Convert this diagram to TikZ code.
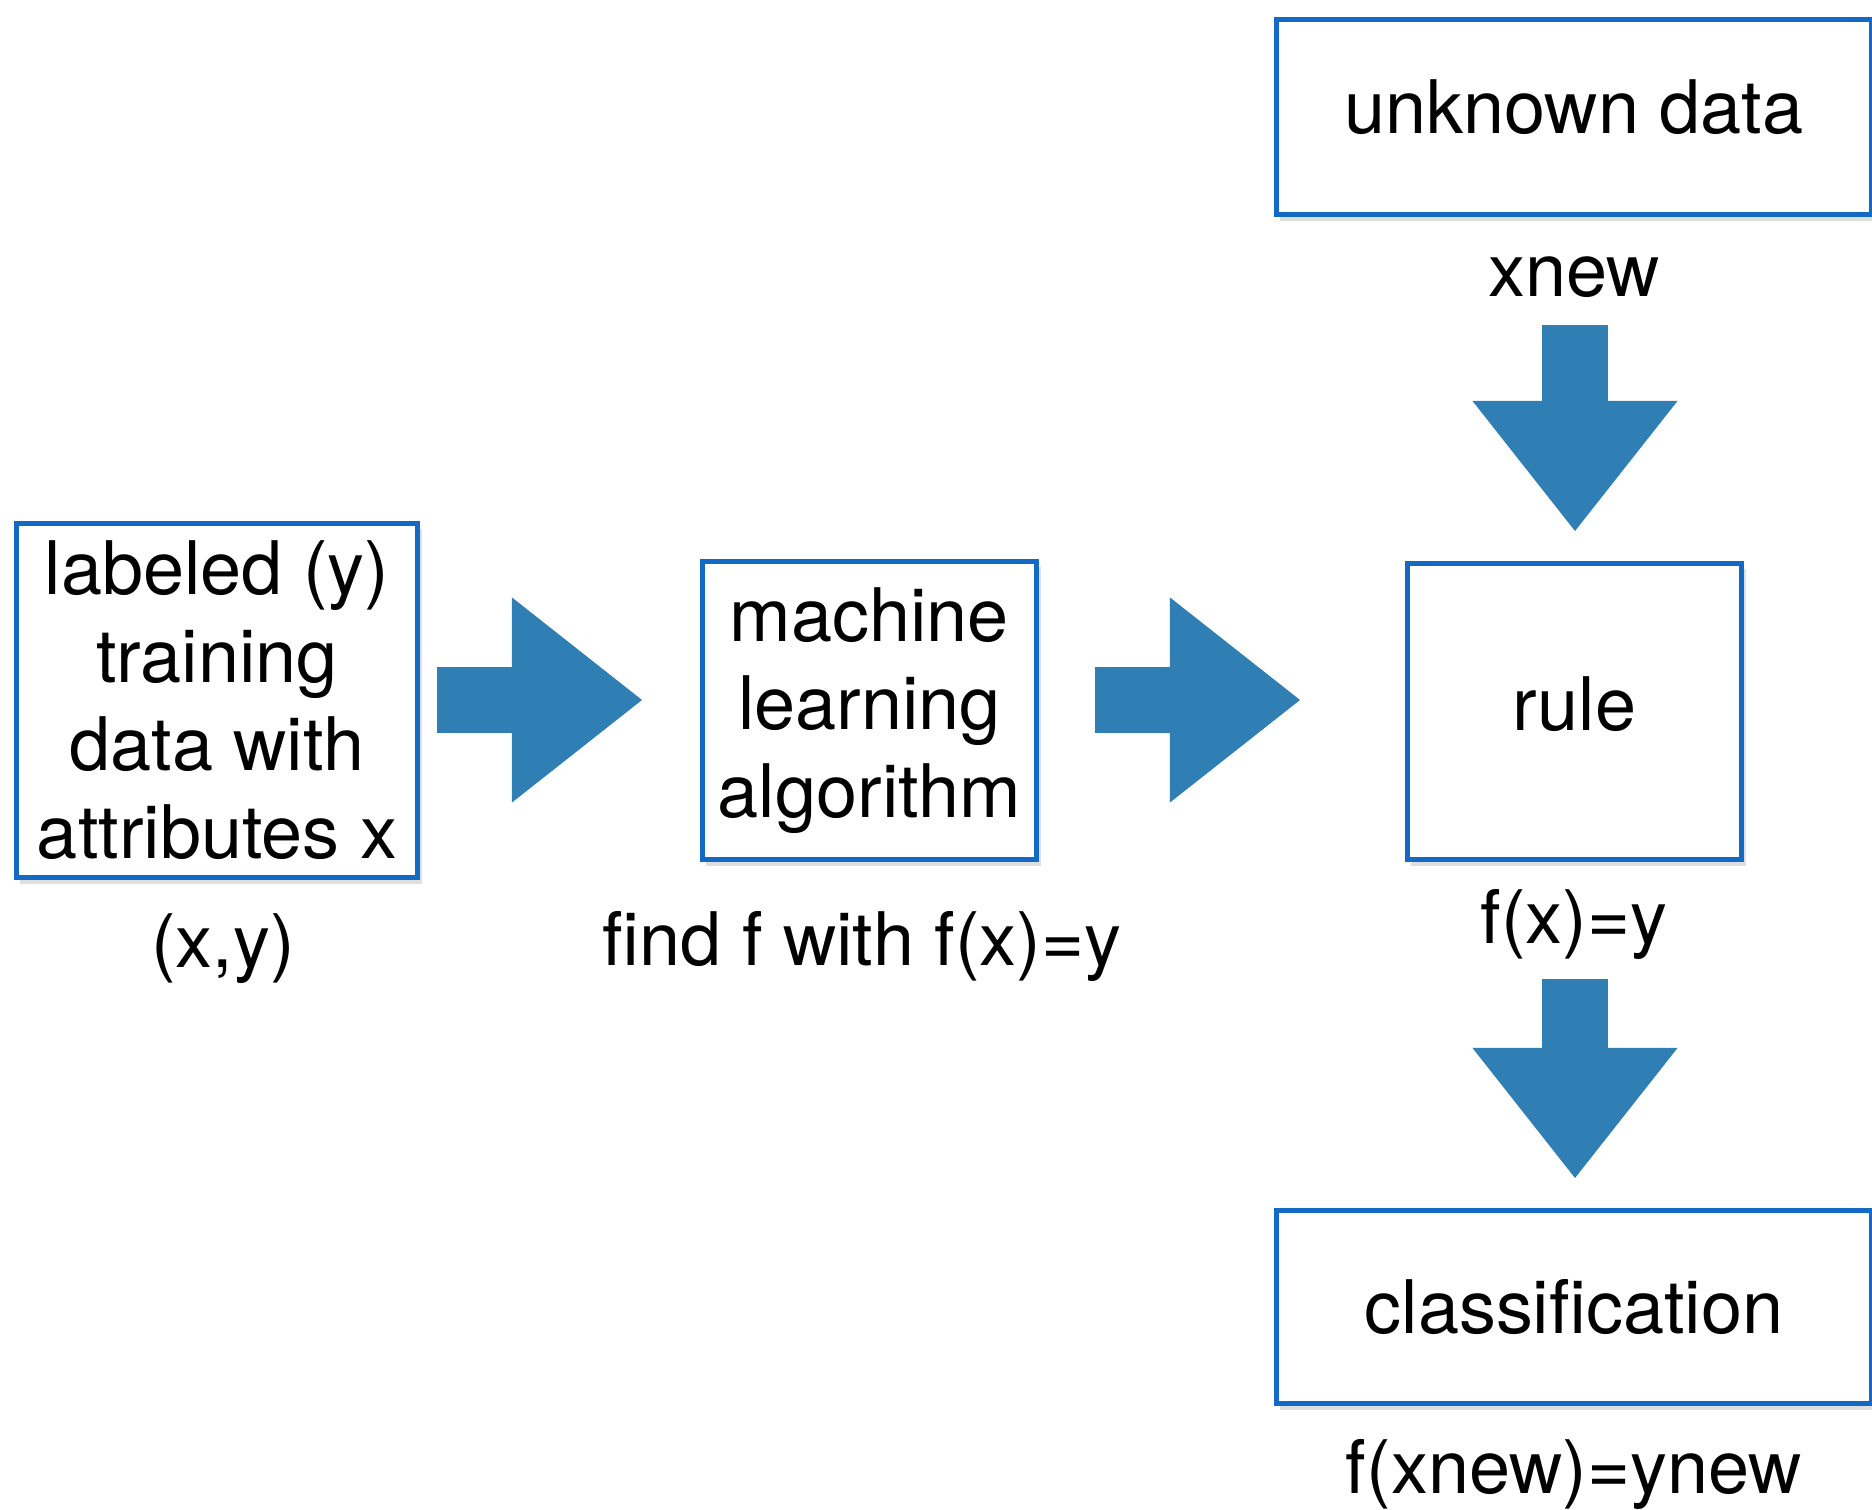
\documentclass[tikz,border=0pt]{standalone}
\usepackage{fontspec}
\setmainfont{TeX Gyre Heros}
\usetikzlibrary{arrows.meta,shadows}
\definecolor{boxblue}{RGB}{18,106,196}
\definecolor{arrowblue}{RGB}{47,126,180}

\begin{document}
\begin{tikzpicture}[x=0.01cm,y=-0.01cm,
  every node/.style={font=\fontsize{21}{25}\selectfont},
  box/.style={draw=boxblue,line width=1.5pt,fill=white,align=center,inner sep=0pt,
    drop shadow={shadow xshift=0.4mm,shadow yshift=-0.6mm,opacity=0.25}},
  fat/.style={arrowblue,line width=0.65cm,
    -{Triangle[width=2.05cm,length=1.3cm,line width=0pt]}}]
\useasboundingbox (0,0) rectangle (1872,1510);
% boxes
\node[box,minimum width=4.01cm,minimum height=3.54cm] (train) at (217,700.5)
  {labeled (y)\\training\\data with\\attributes x};
\node[box,minimum width=3.34cm,minimum height=2.98cm] (algo) at (869.5,710.5)
  {machine\\learning\\algorithm};
\node[box,minimum width=3.34cm,minimum height=2.96cm,text depth=4.6pt] (rule) at (1574.5,711.5) {rule};
\node[box,minimum width=5.95cm,minimum height=1.95cm,text depth=6pt] (unknown) at (1574,117) {unknown data};
\node[box,minimum width=5.95cm,minimum height=1.93cm] (classif) at (1574,1307) {classification};
% labels
\node (xy) at (223,949) {(x,y)};
\node (find) at (862,947) {find f with f(x)=y};
\node (fxy) at (1574,925) {f(x)=y};
\node (xnew) at (1574,277) {xnew};
\node (fnew) at (1574,1475) {f(xnew)=ynew};
% block arrows
\coordinate (a1s) at (437,700);  \coordinate (a1e) at (642,700);
\coordinate (a2s) at (1095,700); \coordinate (a2e) at (1300,700);
\coordinate (a3s) at (1575,325); \coordinate (a3e) at (1575,531);
\coordinate (a4s) at (1575,979); \coordinate (a4e) at (1575,1178);
\foreach \s/\e in {a1s/a1e,a2s/a2e,a3s/a3e,a4s/a4e}{ \draw[fat] (\s) -- (\e); }
\end{tikzpicture}
\end{document}
